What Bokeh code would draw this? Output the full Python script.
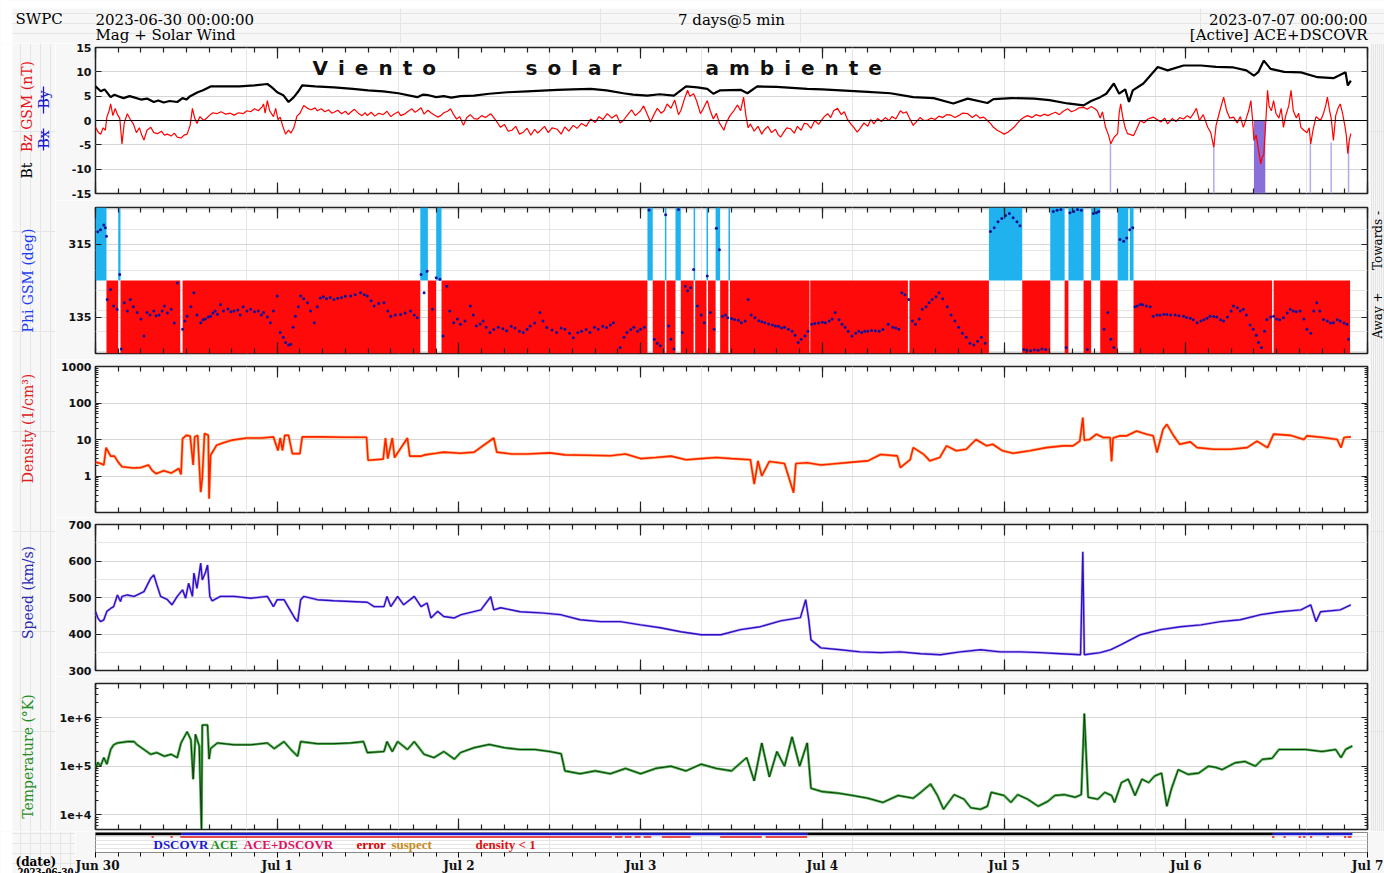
import numpy as np
from bokeh.plotting import figure
from bokeh.models import (Range1d, LinearAxis, LogAxis, FixedTicker, Label, Grid, Span)
from bokeh.layouts import column, row
from bokeh.embed import file_html
from bokeh.resources import INLINE

# ---------------- data (time in hours since 2023-06-30 00:00 UTC) ----------------
DAY_T = [0, 24, 48, 72, 96, 120, 144, 168]
DAY_LABELS = ["Jun 30", "Jul 1", "Jul 2", "Jul 3", "Jul 4", "Jul 5", "Jul 6", "Jul 7"]
MINOR_T = list(range(0, 169, 3))

BT = [(0,7.0),(0.7,6.0),(1.2,6.4),(2,4.8),(2.5,5.3),(3,5.0),(3.7,4.6),(4.5,5.0),(5.2,4.7),(6,4.3),
      (6.8,4.5),(7.7,3.8),(8.3,4.1),(9,3.7),(9.8,4.0),(10.8,3.8),(11.5,4.6),(12.0,4.3),(12.5,5.0),
      (13.5,5.8),(14.2,6.2),(15.2,7.0),(17,7.0),(19,7.0),(21,7.2),(22.7,7.5),(23.3,6.8),(24,5.8),
      (24.8,5.2),(25.5,3.8),(26.2,4.8),(26.8,6.0),(27.3,7.2),(29,7.0),(31.5,6.8),(34,6.5),(36,6.2),
      (38,6.0),(40,5.6),(42.5,4.8),(43.2,5.3),(44,5.2),(45,4.8),(46,5.0),(47,4.7),(48.2,5.0),(50,5.1),
      (52,5.5),(54.4,5.8),(57,6.0),(61,6.3),(63,6.4),(65.4,6.5),(67.5,6.2),(69.7,5.6),(71,5.3),(72.9,5.1),
      (74.5,5.4),(76.4,5.1),(78,7.0),(79.5,6.8),(80.8,6.5),(81.6,5.5),(82.5,6.2),(85.2,6.3),(86.1,5.6),
      (87.4,7.0),(90,6.9),(94,6.5),(96,6.4),(98.4,6.2),(102,5.9),(105,5.6),(108,4.8),(110.7,4.6),
      (113.3,3.5),(115.2,4.5),(117.8,3.6),(118.6,4.4),(121,4.6),(124,4.5),(126,4.2),(128.4,3.5),
      (130.5,3.1),(131.5,4.0),(132.7,4.8),(133.5,5.5),(134.5,7.6),(135.2,5.5),(136,6.4),(136.5,3.8),
      (137,6.2),(138.4,7.6),(140.3,11.0),(141.6,10.3),(143.7,11.3),(146,11.3),(148,11.0),(150.3,10.9),
      (152,10.3),(153,9.2),(153.6,10.0),(154.3,12.3),(155.2,10.6),(157,10.0),(159.2,9.9),(161.4,8.9),
      (163.5,8.7),(165.1,9.9),(165.4,7.2),(165.8,8.2)]

BZ = [(0,-1.4),(0.4,-2.5),(0.7,-2.8),(1.0,-1.5),(1.3,-2.0),(1.5,0.7),(1.8,2.0),(2.0,3.4),(2.3,1.0),
      (2.6,2.5),(2.9,1.2),(3.2,0.5),(3.5,-4.8),(3.8,-0.5),(4.2,1.4),(4.6,0.2),(5.0,-0.7),(5.4,-2.5),
      (5.8,-1.5),(6.1,-3.0),(6.4,-4.0),(6.8,-2.0),(7.3,-1.4),(7.7,-2.5),(8.2,-2.7),(8.7,-2.2),(9.1,-3.0),
      (9.5,-2.8),(10.0,-3.2),(10.4,-2.6),(10.8,-3.4),(11.3,-3.6),(11.7,-3.0),(12.1,-2.8),(12.5,-1.0),
      (12.8,2.5),(13.1,0.5),(13.4,-0.6),(13.8,0.8),(14.3,0.0),(14.7,0.5),(15.0,1.0),(15.5,1.6),(16.0,1.4),
      (16.6,1.8),(17.2,1.3),(17.8,1.5),(18.3,1.1),(18.9,1.6),(19.5,1.4),(20.0,2.0),(20.5,1.8),(21.0,2.4),
      (21.5,2.0),(22.0,2.8),(22.2,3.4),(22.4,1.5),(22.7,4.1),(23.0,2.0),(23.5,0.8),(23.8,2.5),(24.1,0.2),
      (24.4,0.7),(24.7,-1.0),(25.1,-2.8),(25.5,-2.0),(25.8,-2.6),(26.2,-1.5),(26.6,0.9),(27.0,1.5),
      (27.5,3.1),(28.0,2.5),(28.5,2.2),(29.0,2.6),(29.3,2.0),(29.8,2.4),(30.3,1.8),(30.8,2.2),(31.2,1.5),
      (31.5,1.7),(32.0,2.1),(32.5,1.4),(33.0,1.9),(33.4,1.2),(33.7,1.7),(34.2,2.3),(34.7,1.5),(35.2,1.0),
      (35.6,1.6),(35.9,1.0),(36.4,1.7),(36.9,0.9),(37.4,1.5),(38.0,1.2),(38.5,1.9),(39.0,0.8),(39.5,1.4),
      (40.0,1.8),(40.3,1.0),(40.8,1.3),(41.3,1.9),(41.8,2.4),(42.2,1.7),(42.5,2.0),(43.0,2.6),(43.4,1.3),
      (43.9,2.1),(44.3,1.6),(44.7,1.2),(45.2,0.7),(45.6,1.0),(46.0,1.6),(46.5,1.9),(46.9,2.4),(47.3,1.2),
      (47.7,0.3),(48.1,0.8),(48.6,-1.0),(49.0,0.5),(49.5,1.2),(50.0,0.4),(50.5,0.3),(51.0,1.0),(51.5,0.6),
      (52.2,1.4),(52.8,0.2),(53.5,-1.4),(54.0,-0.8),(54.5,-2.2),(55.0,-2.0),(55.5,-1.2),(56.0,-2.8),
      (56.5,-2.4),(57.0,-1.6),(57.5,-3.0),(58.0,-1.8),(58.4,-2.6),(58.8,-2.0),(59.3,-1.2),(59.8,-2.5),
      (60.3,-1.5),(61.0,-1.8),(61.5,-2.8),(62.0,-1.3),(62.5,-2.2),(63.1,-1.0),(63.6,-1.6),(64.2,-0.6),
      (64.8,-1.2),(65.4,0.3),(66.0,-0.4),(66.5,0.8),(67.0,0.2),(67.6,1.4),(68.2,0.5),(68.8,1.2),(69.3,-0.5),
      (69.7,0.0),(70.2,1.0),(70.8,2.2),(71.3,1.0),(72.0,2.0),(72.4,3.0),(72.9,1.2),(73.3,-0.3),(73.7,1.0),
      (74.2,2.5),(74.7,1.5),(75.1,2.0),(75.5,3.4),(76.0,2.5),(76.5,4.2),(77.0,1.2),(77.3,2.0),(77.8,4.5),
      (78.2,6.2),(78.5,5.0),(79.0,5.5),(79.4,4.0),(79.9,1.4),(80.3,2.5),(80.8,4.1),(81.2,2.0),(81.6,0.3),
      (82.0,1.5),(82.4,-0.5),(83.0,-2.0),(83.3,-0.5),(83.8,1.0),(84.3,2.0),(84.8,3.2),(85.2,2.0),(85.6,4.8),
      (85.9,1.0),(86.2,-1.5),(86.5,-0.7),(87.0,-2.2),(87.5,-1.2),(88.0,-2.8),(88.3,-2.0),(88.8,-1.2),
      (89.3,-2.5),(89.8,-1.8),(90.2,-3.0),(90.5,-3.4),(90.9,-2.4),(91.3,-1.5),(91.8,-1.7),(92.3,-2.6),
      (92.7,-1.2),(93.2,-2.0),(93.6,-0.6),(94.0,-0.7),(94.5,-1.6),(95.0,0.0),(95.5,-0.8),(96.2,0.7),
      (96.7,1.4),(97.1,0.6),(97.5,2.0),(98.0,2.5),(98.5,1.2),(98.9,1.8),(99.3,0.3),(99.8,-0.8),(100.2,-1.5),
      (100.6,-2.4),(101.0,-1.6),(101.5,-0.5),(102.0,-1.2),(102.4,0.2),(102.8,-0.7),(103.3,0.4),(103.8,-0.2),
      (104.3,0.6),(104.8,0.0),(105.2,0.8),(105.7,0.3),(106.3,2.0),(106.7,1.5),(107.1,1.8),(107.5,0.5),
      (108.0,-1.0),(108.4,-0.3),(108.9,0.6),(109.4,0.0),(109.9,0.1),(110.4,0.5),(110.9,0.2),(111.4,0.9),
      (111.9,0.6),(112.4,1.2),(113.0,1.1),(113.5,0.6),(114.0,1.0),(114.5,1.5),(115.2,1.4),(115.8,0.6),
      (116.3,1.2),(116.8,0.5),(117.3,0.7),(117.8,0.0),(118.2,-0.6),(118.6,-1.4),(119.1,-2.0),(119.6,-2.4),
      (120.0,-2.8),(120.5,-2.4),(121.0,-1.8),(121.3,-1.4),(121.8,-0.5),(122.3,0.3),(122.8,0.8),(123.1,1.0),
      (123.7,0.6),(124.2,1.2),(124.8,0.9),(125.3,1.3),(125.8,1.0),(126.3,1.4),(126.8,1.7),(127.3,1.2),
      (127.8,1.9),(128.4,2.4),(128.9,1.8),(129.4,2.1),(129.9,2.6),(130.5,2.7),(131.0,2.3),(131.5,2.9),
      (132.0,2.4),(132.3,2.0),(132.7,0.5),(133.0,1.8),(133.4,-1.4),(133.8,-3.0),(134.1,-4.8),(134.5,-3.5),
      (135.0,-2.7),(135.2,1.5),(135.4,3.4),(135.7,0.5),(136.0,-1.5),(136.3,-2.7),(136.7,-2.9),(137.1,-3.1),
      (137.5,-1.8),(138.0,0.0),(138.5,-0.5),(139.0,0.3),(139.7,0.7),(140.2,0.2),(140.7,-0.3),(141.2,0.5),
      (141.6,-0.7),(142.2,0.4),(142.7,-0.2),(143.2,0.6),(143.7,0.3),(144.2,1.0),(144.6,0.5),(145.0,1.4),
      (145.4,2.5),(145.8,0.0),(146.3,1.2),(146.9,-1.4),(147.3,-2.5),(147.7,-5.5),(148.0,-1.0),(148.5,2.0),
      (149.0,4.8),(149.4,2.0),(149.8,0.5),(150.3,0.7),(150.8,-0.5),(151.2,0.8),(151.6,-1.4),(152.0,0.5),
      (152.3,2.0),(152.6,4.1),(152.8,0.5),(153.0,-4.1),(153.3,-3.0),(153.6,-6.0),(153.9,-8.9),(154.1,-7.5),
      (154.3,-7.0),(154.5,-2.0),(154.8,6.2),(155.0,3.0),(155.3,2.0),(155.6,4.1),(155.9,1.5),(156.3,0.5),
      (156.6,2.5),(156.9,-1.4),(157.2,1.0),(157.6,3.0),(157.9,6.2),(158.2,2.0),(158.6,0.5),(158.9,1.5),
      (159.2,-1.4),(159.6,-2.0),(160.0,-2.5),(160.3,-1.5),(160.5,-4.8),(160.8,-2.0),(161.2,0.8),(161.8,0.0),
      (162.2,1.5),(162.5,3.2),(162.7,4.8),(163.0,2.0),(163.2,0.5),(163.5,-4.1),(163.8,1.0),(164.1,2.5),
      (164.4,3.4),(164.7,1.5),(165.0,-1.0),(165.2,-3.0),(165.4,-6.8),(165.6,-4.0),(165.8,-2.7)]

# strongly southward Bz markers (start, end, top in nT)
BZ_THIN = [(133.95,134.15,-4.5),(147.6,147.8,-4.5),(160.35,160.55,-4.5),(163.1,163.3,-4.5),(165.4,165.6,-4.5)]
BZ_BAND = [(153.0,154.5,0.0)]

# IMF sector intervals (start, end)
SECT_TOW = [(0,1.45),(3.0,3.3),(42.9,43.9),(45.0,45.7),(72.9,73.6),(75.2,75.4),(76.6,77.3),(79.0,79.2),
            (80.7,80.9),(81.9,82.5),(83.6,83.8),(118.0,122.4),(126.1,128.0),(128.5,130.5),(131.5,132.7),
            (135.0,136.4),(136.6,137.1)]
SECT_AWAY = [(1.45,3.0),(3.3,11.2),(11.5,42.9),(43.9,45.0),(45.7,72.9),(73.6,75.2),(75.4,76.6),(77.3,79.0),
             (79.2,80.7),(80.9,81.9),(82.5,83.6),(83.8,94.3),(94.4,107.3),(107.5,118.0),(122.4,126.1),
             (128.0,128.5),(130.5,131.5),(132.7,135.0),(137.1,155.4),(155.6,165.7)]

PHI = [(0.3,345),(0.66,350),(1.1,362),(1.3,355),(1.45,334),(1.54,178),(1.98,203),(2.4,162),(2.86,154),
       (3.2,240),(3.4,56),(3.8,170),(4.2,150),(4.6,178),(5.0,160),(5.5,146),(6.0,130),(6.4,88),(6.8,146),
       (7.2,140),(7.7,150),(8.0,138),(8.4,140),(8.8,150),(9.1,162),(9.5,145),(10,154),(10.4,120),(10.8,219),
       (11.5,105),(11.8,125),(12.1,137),(12.6,160),(13,195),(13.4,140),(13.9,121),(14.2,128),(14.5,130),
       (14.9,135),(15.2,137),(15.5,145),(15.8,150),(16.1,142),(16.5,166),(16.9,150),(17.5,155),(17.9,148),
       (18.3,150),(18.8,152),(19.1,140),(19.5,160),(20.0,150),(20.5,154),(21.0,148),(21.5,150),(21.9,140),
       (22.2,146),(22.7,135),(23.1,121),(23.5,150),(24,187),(24.4,97),(24.8,85),(25.1,72),(25.5,66),(25.8,68),
       (26.1,110),(26.4,137),(26.8,160),(27.1,187),(27.5,180),(28,170),(28.4,150),(28.9,121),(29.3,160),
       (29.7,182),(30.1,185),(30.5,180),(31.0,183),(31.5,178),(32.0,181),(32.5,183),(33.0,186),(33.7,187),
       (34.3,190),(35,195),(35.5,190),(35.9,187),(36.4,175),(36.8,162),(37.4,168),(38.1,170),(38.6,150),
       (39,137),(39.6,140),(40.3,141),(40.9,145),(41.6,150),(42.1,140),(42.5,133),(43.0,240),(43.4,195),
       (43.8,248),(44.5,154),(45.0,232),(45.5,228),(45.9,88),(46.4,211),(46.8,150),(47.3,121),(47.8,130),
       (48.2,117),(48.8,125),(49.5,162),(49.9,140),(50.3,113),(50.8,118),(51.2,125),(51.6,110),(52.1,97),
       (52.6,104),(53.2,110),(53.8,106),(54.3,101),(54.9,112),(55.4,108),(56.0,100),(56.5,97),(57.0,105),
       (57.4,113),(58.0,120),(58.7,146),(59.1,125),(59.6,109),(60.3,103),(60.9,97),(61.5,108),(62,105),
       (62.6,95),(63.1,84),(63.7,96),(64.2,100),(64.8,104),(65.3,97),(65.9,110),(66.4,105),(67.0,112),
       (67.5,109),(68.0,115),(68.4,121),(69.3,60),(69.8,85),(70.2,97),(70.7,104),(71.1,110),(71.6,100),
       (72,105),(72.5,110),(73.1,399),(73.8,80),(74.2,70),(74.6,64),(75.3,387),(75.7,113),(76.0,80),
       (76.4,56),(77,400),(77.5,97),(77.9,211),(78.2,200),(78.6,207),(79,252),(79.5,162),(80.0,140),
       (80.4,121),(80.8,236),(81.2,146),(81.7,105),(82,354),(82.4,301),(82.8,137),(83.2,140),(83.5,133),
       (84.0,131),(84.4,129),(84.9,127),(85.3,121),(85.8,125),(86.2,178),(86.6,140),(87.1,133),(87.6,126),
       (88.0,123),(88.4,121),(88.9,118),(89.4,115),(89.8,113),(90.2,112),(90.6,108),(91.0,110),(91.5,105),
       (92.0,100),(92.4,90),(92.8,72),(93.2,80),(93.7,88),(94.1,100),(94.6,117),(95.0,119),(95.5,120),
       (96.0,122),(96.4,121),(96.9,125),(97.3,130),(97.7,146),(98.2,128),(98.6,117),(99.0,110),(99.4,100),
       (99.9,88),(100.4,95),(100.8,100),(101.2,97),(101.6,100),(102,100),(102.5,102),(103,101),(103.5,100),
       (104.0,104),(104.7,117),(105.3,110),(105.7,108),(106.1,105),(106.5,195),(106.9,190),(107.4,178),
       (107.9,125),(108.3,117),(108.8,130),(109.2,154),(109.7,160),(110.1,170),(110.5,178),(111.0,185),
       (111.4,195),(111.9,180),(112.5,160),(113.0,140),(113.5,125),(114.0,110),(114.5,95),(115.0,85),
       (115.5,70),(116.0,66),(116.5,75),(117.0,85),(117.5,70),(118.2,346),(118.7,355),(119.2,370),
       (119.7,378),(120.2,385),(120.7,390),(121.2,380),(121.7,370),(122.1,360),(122.6,55),(123.0,53),
       (123.5,52),(124.0,54),(124.5,53),(125.0,56),(125.5,55),(126.5,395),(127.0,398),(127.5,400),(128.2,60),
       (128.7,392),(129.2,395),(129.7,400),(130.2,398),(131,55),(131.8,390),(132.2,392),(132.5,395),
       (133.2,105),(133.7,146),(134.1,80),(134.5,60),(135.3,326),(135.8,322),(136.2,330),(136.6,350),
       (137,355),(137.3,160),(137.6,162),(138.0,166),(138.3,165),(138.8,162),(139.3,160),(139.7,137),
       (140.2,140),(140.6,140),(141.1,142),(141.5,141),(142.0,140),(142.6,140),(143.1,138),(143.7,137),
       (144.1,134),(144.6,132),(145.0,128),(145.5,121),(146.0,125),(146.4,128),(146.8,132),(147.2,137),
       (147.7,136),(148.1,135),(148.6,128),(149,125),(149.5,135),(150.0,150),(150.3,162),(150.8,158),
       (151.2,150),(151.6,154),(152.0,140),(152.5,115),(152.9,105),(153.3,90),(153.6,72),(154,60),
       (154.4,100),(154.7,129),(155.2,135),(155.6,137),(156.0,130),(156.4,128),(156.9,133),(157.4,145),
       (157.8,154),(158.2,150),(158.6,148),(159.1,150),(159.6,130),(160,105),(160.5,95),(160.9,150),
       (161.3,170),(161.7,150),(162.2,129),(162.7,125),(163.1,120),(163.5,121),(164.0,128),(164.4,125),
       (164.9,120),(165.3,117),(165.5,80)]

DENS = [(0,2.4),(0.7,2.2),(1.1,2.0),(1.4,6.0),(2,3.5),(2.5,3.5),(3,2.4),(3.5,1.8),(5,1.66),(6,1.7),(7,2.0),
        (7.5,1.4),(8,1.16),(9,1.4),(10,1.2),(11,1.6),(11.3,1.1),(11.5,10.6),(12,13),(12.5,12.5),(12.9,2.0),
        (13.1,11.8),(13.5,13),(13.9,0.36),(14.1,0.85),(14.4,14.6),(14.9,13),(15,0.24),(15.2,3.7),(16,7),
        (17,8.3),(18,9.6),(20,11),(22,11),(23.5,11.8),(24.1,5.0),(24.4,11),(24.7,5.0),(25,13),(25.5,13),
        (26,4.1),(27,4.1),(27.3,11.8),(30,11.8),(33,11.5),(35.8,11.5),(36,2.7),(38,2.9),(38.3,11),(38.6,3),
        (39.2,11),(39.5,3.2),(41.2,11),(41.5,3.5),(43,3.5),(43.5,3.8),(45,4.2),(46,4.5),(48.2,4.2),(50,4.5),
        (52.6,11),(53,4.5),(55,4.0),(57,4.0),(60,4.3),(62,3.8),(65,3.7),(68,3.6),(70,4.0),(72,3.0),(74,3.2),
        (76,3.5),(78,2.8),(80,3.0),(82,3.2),(84,3.0),(86.5,2.8),(87,0.6),(87.5,2.6),(88,1.0),(89,2.5),(91,2.2),
        (92.2,0.35),(92.5,2.2),(94,2.3),(95.8,2.0),(98,2.2),(100,2.4),(102,2.6),(103.7,3.9),(105.9,3.55),
        (106.3,1.7),(107.6,2.8),(108,6.0),(109.4,3.9),(110.2,2.6),(111.5,3.2),(112.4,6.7),(113.7,4.9),
        (115,5.4),(116.3,10),(117.7,6.7),(118.5,7.4),(119.8,4.9),(121.2,4.2),(123.4,4.9),(125.6,6.0),
        (127.8,6.7),(129.1,6.7),(130,9.0),(130.4,40),(130.6,9.5),(131.3,10),(132.2,14),(133.1,11.3),
        (134,11.3),(134.2,2.5),(134.4,11),(135.3,12.6),(136.2,12.6),(137.5,17),(138.8,14),(139.7,12.6),
        (140.2,4.4),(141,19),(141.5,26),(142.4,12.6),(143.2,7.4),(144.6,8.6),(145.5,6.0),(147.7,5.4),
        (149.9,5.4),(152.1,6.0),(153.4,9.0),(154.8,6.0),(155.6,14),(157.8,13),(159.6,10),(160,12.6),
        (162.2,11.3),(164,10),(164.5,6.0),(164.9,11.3),(165.8,11.8)]

SPEED = [(0,462),(0.3,444),(0.66,434),(1.1,439),(1.5,462),(2,470),(2.4,475),(2.9,507),(3.3,489),(3.5,503),
         (4.2,507),(5.1,503),(6.4,516),(7.3,553),(7.7,562),(8.1,535),(8.6,503),(9.5,494),(10.1,480),
         (10.8,503),(11.5,521),(11.9,498),(12.3,539),(12.8,503),(13,567),(13.4,525),(13.9,594),(14.1,548),
         (14.5,567),(14.8,589),(15.1,503),(15.4,491),(16.5,503),(18.3,503),(20.5,498),(22.7,503),(23.5,475),
         (24,494),(24.9,494),(25.8,462),(26.3,444),(26.7,434),(27.1,494),(27.5,503),(29.3,494),(31.5,491),
         (33.7,489),(35.9,487),(36.8,475),(38.1,475),(38.5,503),(39,475),(39.9,503),(40.7,480),(42.1,503),
         (43,475),(43.8,485),(44.3,444),(45.2,462),(46,448),(47.4,444),(48.3,453),(50.9,466),(52.2,502),
         (52.6,466),(53.5,472),(56.1,461),(58.8,458),(61.4,453),(64,439),(66.7,434),(69.3,434),(72,425),
         (74.6,417),(77.3,406),(80,398),(82.6,398),(85.2,412),(87.8,420),(90.5,436),(93.1,445),(93.8,494),
         (94.2,440),(94.5,384),(95.8,362),(98.4,357),(101,351),(103.7,349),(106.3,351),(109,346),
         (111.6,343),(114.2,351),(116.9,357),(119.5,351),(122.2,351),(124.8,349),(127.5,346),(130.1,343),
         (130.4,625),(130.6,343),(132.7,349),(134.1,357),(135.4,370),(138,398),(140.7,412),(143.3,420),
         (146,425),(148.6,434),(151.2,439),(153.9,453),(156.5,461),(159.2,466),(160.5,480),(161.2,434),
         (161.8,461),(164.4,466),(165.8,480)]

TEMP = [(0,8.5e4),(0.3,1.2e5),(0.66,1.0e5),(1.1,1.5e5),(1.5,1.1e5),(2,2.2e5),(2.4,2.75e5),(2.9,3.0e5),
        (4.2,3.2e5),(5.1,3.2e5),(5.5,2.75e5),(6.4,2.2e5),(7.3,1.75e5),(8.1,1.9e5),(9.1,1.6e5),(10,1.75e5),
        (10.8,1.5e5),(11.3,3.0e5),(12.1,5.1e5),(12.6,3.5e5),(12.9,5.4e4),(13.2,4.5e5),(13.7,2.6e5),
        (14.0,5.1e3),(14.1,7.0e5),(14.8,7.0e5),(15,1.4e5),(15.2,2.3e5),(16.1,3.0e5),(18.3,2.75e5),
        (20.5,2.75e5),(22.7,3.0e5),(23.6,2.3e5),(24.9,3.2e5),(25.8,2.2e5),(26.7,1.6e5),(27.1,3.2e5),
        (29.3,2.9e5),(31.5,2.9e5),(33.7,3.0e5),(35.4,3.2e5),(35.9,1.9e5),(38.1,2.0e5),(38.5,3.2e5),
        (39.2,2.0e5),(39.9,3.2e5),(41.2,2.2e5),(42.1,3.2e5),(43.4,1.75e5),(44.7,1.5e5),(46,2.0e5),
        (47.4,1.4e5),(48.2,1.9e5),(50,2.4e5),(52,2.8e5),(54,2.4e5),(56,2.2e5),(58,2.2e5),(60,2.0e5),
        (61.5,1.8e5),(62,8e4),(64,7e4),(66,8e4),(68,7e4),(70,9e4),(72,7e4),(74,9e4),(76,1e5),(78,8e4),
        (80,1.1e5),(82,9e4),(84,8e4),(86,1.5e5),(87,5e4),(88,3e5),(89,6e4),(90,2e5),(91,1e5),(92,4e5),
        (93,1e5),(94,3e5),(94.5,3.5e4),(96,3e4),(98,2.8e4),(100,2.5e4),(102,2.2e4),(104,1.8e4),(106,2.5e4),
        (108,2.2e4),(109,2.9e4),(110.3,4.3e4),(111.2,2.5e4),(112,1.3e4),(113.4,2.6e4),(114.7,2.1e4),
        (115.6,1.4e4),(116.9,1.3e4),(117.8,1.5e4),(118.3,2.9e4),(120,2.5e4),(120.9,1.8e4),(121.8,2.6e4),
        (123.1,2.1e4),(124.5,1.5e4),(125.8,1.9e4),(126.7,2.5e4),(128,2.6e4),(129.4,2.3e4),(130.2,2.6e4),
        (130.6,1.2e6),(131.1,2.3e4),(132.4,2.1e4),(133.3,2.9e4),(134.2,2.5e4),(134.6,1.8e4),(135.5,4.6e4),
        (136.4,5.4e4),(137.3,2.5e4),(138.2,5.4e4),(139.1,4.6e4),(139.9,6.3e4),(140.8,7.2e4),(141.5,1.5e4),
        (142.1,3.4e4),(143,8.5e4),(144.3,6.8e4),(145.7,7.2e4),(147,1.0e5),(147.9,9.5e4),(148.8,8.5e4),
        (150.5,1.17e5),(151.8,1.25e5),(153.2,1.0e5),(154.1,1.38e5),(155.4,1.45e5),(156.3,2.2e5),
        (157.6,2.2e5),(159.8,2.2e5),(162,2.0e5),(163.8,2.2e5),(164.5,1.5e5),(165.1,2.2e5),(166,2.6e5)]

# data source bar: (start, end, spacecraft) and flagged intervals
SOURCE = [(0,11.3,"none"),(11.3,94.0,"DSCOVR"),(94.0,155.5,"none"),(155.5,166.0,"DSCOVR")]
FLAGS = [(7.4,7.7),(9.9,10.2),(11.2,68.2),(68.6,69.6),(69.9,70.8),(71.2,72.0),(72.4,73.4),(74.8,78.6),
         (82.5,88.0),(88.5,94.0),(155.4,155.7),(156.9,157.2),(158.9,159.2),(159.5,159.8),(160.4,160.7),
         (162.6,162.9),(164.9,165.2),(165.4,165.9)]

# ---------------- layout constants (pixels) ----------------
FW = 1272          # frame width of every panel
STRIP_L = 55       # left label strip beside the panels
STRIP_LB = 75      # left label strip beside the source bar / date axis
STRIP_R = 15       # right label strip
PB_L = 40          # panel left border (tick labels)
HDR_H = 43         # header height
BG = "#f7f7f7"
xr = Range1d(0, 168)


def unzip(pairs):
    a, b = zip(*pairs)
    return list(a), list(b)


def canvas(w, h):
    """A plain drawing surface whose frame is the whole canvas (for free text)."""
    p = figure(width=w, height=h, x_range=Range1d(0, w), y_range=Range1d(0, h),
               x_axis_location=None, y_axis_location=None, title=None,
               output_backend="svg", toolbar_location=None, min_border=0)
    p.outline_line_color = None
    p.background_fill_color = BG
    p.border_fill_color = BG
    return p


def base(fh, top, bottom, yr, ytype="linear", left=PB_L, right=2):
    p = figure(frame_width=FW, frame_height=fh, x_range=xr, y_range=yr, y_axis_type=ytype,
               x_axis_location=None, y_axis_location=None, title=None,
               output_backend="svg", toolbar_location=None)
    p.min_border_left = left
    p.min_border_right = right
    p.min_border_top = top
    p.min_border_bottom = bottom
    p.border_fill_color = BG
    p.background_fill_color = "white"
    p.outline_line_color = "#222222"
    p.outline_line_width = 1.5
    return p


def hide_labels(ax, ticks):
    ax.major_label_text_font_size = "0px"
    ax.major_label_standoff = 0
    ax.major_label_overrides = {t: "" for t in ticks}
    ax.axis_line_color = None


def x_inner(p):
    for loc in ("above", "below"):
        ax = LinearAxis(ticker=FixedTicker(ticks=DAY_T, minor_ticks=MINOR_T))
        hide_labels(ax, DAY_T)
        ax.major_tick_in = 11
        ax.major_tick_out = 0
        ax.minor_tick_in = 5
        ax.minor_tick_out = 0
        ax.major_tick_line_color = "#222222"
        ax.minor_tick_line_color = "#222222"
        ax.major_tick_line_width = 1.2
        ax.minor_tick_line_width = 1.2
        p.add_layout(ax, loc)


def y_axes(p, ticks, labels, minor=None, log=False, grid=None):
    Axis = LogAxis if log else LinearAxis
    for loc in ("left", "right"):
        ax = Axis(ticker=FixedTicker(ticks=ticks, minor_ticks=minor or []))
        ax.major_tick_in = 6
        ax.major_tick_out = 0
        ax.minor_tick_in = 3 if minor else 0
        ax.minor_tick_out = 0
        ax.axis_line_color = None
        ax.major_tick_line_color = "#222222"
        ax.minor_tick_line_color = "#222222"
        if loc == "left":
            ax.major_label_overrides = labels
            ax.major_label_text_font = "DejaVu Sans"
            ax.major_label_text_font_style = "bold"
            ax.major_label_text_font_size = "11px"
            ax.major_label_text_color = "#111111"
            ax.major_label_standoff = 4
        else:
            hide_labels(ax, ticks)
        p.add_layout(ax, loc)
    if grid:
        p.add_layout(Grid(dimension=1, ticker=FixedTicker(ticks=grid),
                          grid_line_color="#d6d6d6", grid_line_width=1))


def lab(p, x, y, text, size="14px", color="black", font="DejaVu Serif", angle=0.0,
        align="left", baseline="middle", style="normal"):
    p.add_layout(Label(x=x, y=y, x_units="screen", y_units="screen", text=text,
                       text_font=font, text_font_size=size, text_color=color, angle=angle,
                       text_align=align, text_baseline=baseline, text_font_style=style))


VERT = np.pi / 2

# ---------------- header (image y 0 .. 43) ----------------
hdr = canvas(1384, HDR_H)
hdr.quad(left=0, right=1384, bottom=HDR_H - 8, top=HDR_H, color="white", line_color=None)
hdr.quad(left=0, right=12, bottom=0, top=HDR_H, color="white", line_color=None)
lab(hdr, 15, HDR_H - 18, "SWPC", size="15px")
lab(hdr, 95, HDR_H - 19, "2023-06-30 00:00:00", size="15px")
lab(hdr, 95, 9, "Mag + Solar Wind", size="15px")
lab(hdr, 731, HDR_H - 19, "7 days@5 min", size="15px", align="center")
lab(hdr, 1367, HDR_H - 19, "2023-07-07 00:00:00", size="15px", align="right")
lab(hdr, 1367, 9, "[Active] ACE+DSCOVR", size="15px", align="right")

# ---------------- panel 1 : magnetic field ----------------
p1 = base(146, 4, 7, Range1d(-15, 15))
x_inner(p1)
mag_ticks = [-15, -10, -5, 0, 5, 10, 15]
y_axes(p1, mag_ticks, {t: str(t) for t in mag_ticks}, grid=[-10, -5, 5, 10])
thin_l = [a for a, b, c in BZ_THIN]
thin_r = [b for a, b, c in BZ_THIN]
thin_t = [c for a, b, c in BZ_THIN]
p1.quad(left=thin_l, right=thin_r, bottom=-15, top=thin_t, color="#b9a9ec", line_color=None)
band_l = [a for a, b, c in BZ_BAND]
band_r = [b for a, b, c in BZ_BAND]
band_t = [c for a, b, c in BZ_BAND]
p1.quad(left=band_l, right=band_r, bottom=-15, top=band_t, color="#8a6fd8", line_color=None)
bz_t, bz_v = unzip(BZ)
p1.line(bz_t, bz_v, color="#ff0000", line_width=1.2)
bt_t, bt_v = unzip(BT)
p1.line(bt_t, bt_v, color="#000000", line_width=2.2)
p1.add_layout(Span(location=0, dimension="width", line_color="black", line_width=1.2))
lab(p1, 217, 126, "V\u2002i\u2002e\u2002n\u2002t\u2002o", size="20px", font="DejaVu Sans", style="bold", color="#111111")
lab(p1, 430, 126, "s\u2002o\u2002l\u2002a\u2002r", size="20px", font="DejaVu Sans", style="bold", color="#111111")
lab(p1, 610, 126, "a\u2002m\u2002b\u2002i\u2002e\u2002n\u2002t\u2002e", size="20px", font="DejaVu Sans", style="bold", color="#111111")

# ---------------- panel 2 : phi ----------------
p2 = base(146, 7, 6, Range1d(45, 405))
x_inner(p2)
y_axes(p2, [135, 315], {135: "135", 315: "315"}, grid=[135, 315])
tw_l, tw_r = unzip(SECT_TOW)
aw_l, aw_r = unzip(SECT_AWAY)
p2.quad(left=tw_l, right=tw_r, bottom=225, top=405, color="#1fb2ee", line_color=None)
p2.quad(left=aw_l, right=aw_r, bottom=45, top=225, color="#ff0a0a", line_color=None)
ph_t, ph_v = unzip(PHI)
p2.scatter(ph_t, ph_v, size=3, color="#12129a", line_color=None)

# ---------------- panel 3 : density ----------------
p3 = base(146, 7, 5, Range1d(0.1, 1000), ytype="log")
x_inner(p3)
dmin = [m * 10.0 ** e for e in range(-1, 3) for m in range(2, 10)]
y_axes(p3, [1, 10, 100, 1000], {1: "1", 10: "10", 100: "100", 1000: "1000"}, minor=dmin, log=True,
       grid=[1, 10, 100])
dn_t, dn_v = unzip(DENS)
p3.line(dn_t, dn_v, color="#ff8c1a", line_width=3.0, line_alpha=0.55)
p3.line(dn_t, dn_v, color="#ff2200", line_width=1.6)

# ---------------- panel 4 : speed ----------------
p4 = base(146, 7, 6, Range1d(300, 700))
x_inner(p4)
sp_ticks = [300, 400, 500, 600, 700]
y_axes(p4, sp_ticks, {t: str(t) for t in sp_ticks}, grid=[400, 500, 600])
sp_t, sp_v = unzip(SPEED)
p4.line(sp_t, sp_v, color="#9a5cff", line_width=2.6, line_alpha=0.5)
p4.line(sp_t, sp_v, color="#2a12c0", line_width=1.4)

# ---------------- panel 5 : temperature ----------------
p5 = base(146, 7, 2, Range1d(5e3, 5e6), ytype="log")
x_inner(p5)
tmin = [m * 10.0 ** e for e in range(3, 7) for m in range(2, 10) if 5e3 <= m * 10.0 ** e <= 5e6]
y_axes(p5, [1e4, 1e5, 1e6], {1e4: "1e+4", 1e5: "1e+5", 1e6: "1e+6"}, minor=tmin, log=True,
       grid=[1e4, 1e5, 1e6])
tp_t, tp_v = unzip(TEMP)
p5.line(tp_t, tp_v, color="#22a022", line_width=2.6, line_alpha=0.8)
p5.line(tp_t, tp_v, color="#0b2a0b", line_width=0.9)

# ---------------- panel 6 : source bar + date axis ----------------
p6 = base(20, 1, 21, Range1d(0, 1), left=95 - STRIP_LB, right=17)
p6.outline_line_color = "#8a8a8a"
p6.outline_line_width = 1
src_col = {"none": "#000000", "DSCOVR": "#1a1ad0", "ACE": "#1f8f1f"}
for a, b, s in SOURCE:
    p6.line([a, b], [0.92, 0.92], color=src_col[s], line_width=2.5)
for a, b in FLAGS:
    p6.line([a, b], [0.77, 0.77], color="#e01010", line_width=1.5)
ax6 = LinearAxis(ticker=FixedTicker(ticks=DAY_T, minor_ticks=MINOR_T))
ax6.major_label_overrides = dict(zip(DAY_T, DAY_LABELS))
ax6.major_tick_in = 0
ax6.major_tick_out = 5
ax6.minor_tick_in = 0
ax6.minor_tick_out = 4
ax6.axis_line_color = None
ax6.major_label_standoff = 1
ax6.major_label_text_font = "DejaVu Serif"
ax6.major_label_text_font_style = "bold"
ax6.major_label_text_font_size = "12px"
ax6.major_label_text_color = "#111111"
p6.add_layout(ax6, "below")
leg = [(58, "DSCOVR", "#1a1ad0"), (115, "ACE", "#1f8f1f"), (148, "ACE+DSCOVR", "#e0115f"),
       (261, "error", "#dd0000"), (296, "suspect", "#c88a1a"), (380, "density < 1", "#e01010")]
for x, t, c in leg:
    lab(p6, x, 8, t, size="13px", color=c, style="bold", font="Liberation Serif")

# ---------------- left label strip beside panels (image y 43 .. 831) ----------------
LH = 831 - HDR_H
ls = canvas(STRIP_L, LH)
ls.quad(left=0, right=12, bottom=0, top=LH, color="white", line_color=None)
lab(ls, 26, 831 - 170, "Bt", color="black", angle=VERT, align="center")
lab(ls, 26, 831 - 106, "Bz GSM (nT)", color="#e8101a", angle=VERT, align="center")
lab(ls, 43, 831 - 139, "Bx", color="#1a1ad0", angle=VERT, align="center")
lab(ls, 43, 831 - 99, "By", color="#1a1ad0", angle=VERT, align="center")
ls.segment(x0=[43, 43], y0=[831 - 150, 831 - 113], x1=[43, 43], y1=[831 - 128, 831 - 86],
           line_color="#1a1ad0", line_width=1.3)
lab(ls, 27, 831 - 280, "Phi GSM (deg)", color="#1c3cf0", angle=VERT, align="center")
lab(ls, 27, 831 - 428, "Density (1/cm\u00b3)", color="#e0201c", angle=VERT, align="center")
lab(ls, 27, 831 - 592, "Speed (km/s)", color="#2a2ab0", angle=VERT, align="center")
lab(ls, 27, 831 - 756, "Temperature (\u00b0K)", color="#1e8c1e", angle=VERT, align="center")

# ---------------- left label strip beside the date axis (image y 831 .. 873) ----------------
LBH = 873 - 831
lsb = canvas(STRIP_LB, LBH)
lsb.quad(left=0, right=12, bottom=0, top=LBH, color="white", line_color=None)
lab(lsb, 15, 873 - 861, "(date)", size="12px", style="bold")
lab(lsb, 17, 873 - 867, "2023-06-30", size="12px", style="bold", font="Liberation Serif", baseline="top")

# ---------------- right label strip (image y 43 .. 831) ----------------
RH = 831 - HDR_H
rs = canvas(STRIP_R, RH)
lab(rs, 1377 - 1369, 831 - 240, "Towards -", size="12px", angle=VERT, align="center")
lab(rs, 1377 - 1369, 831 - 315, "Away +", size="12px", angle=VERT, align="center")

# nesting in columns keeps Bokeh from aligning the text canvases' frames with the panels' frames
panels = column(p1, p2, p3, p4, p5, spacing=0)
upper = row(ls, panels, rs, spacing=0)
lower = row(column(lsb, spacing=0), column(p6, spacing=0), spacing=0)
layout = column(hdr, upper, lower, spacing=0)
open("out.html", "w").write(file_html(layout, INLINE))
